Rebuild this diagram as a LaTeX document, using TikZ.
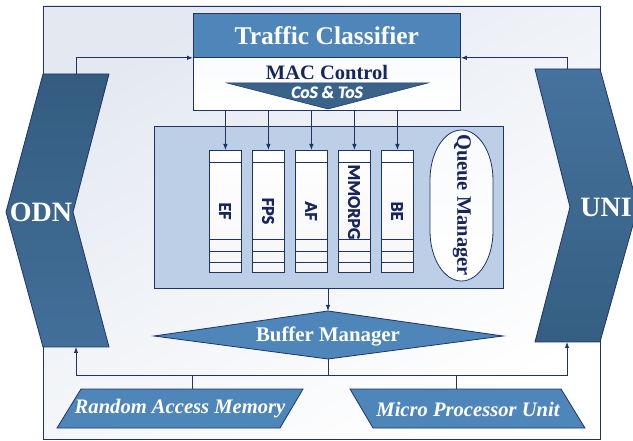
\documentclass[tikz,border=0pt]{standalone}
\usepackage{fontspec}
\setmainfont{Liberation Serif}
\newfontfamily\carlb{Carlito}[UprightFont=* Bold, ItalicFont=* Bold Italic, FakeBold=1.2]
\usetikzlibrary{arrows.meta,calc}
\definecolor{hdr}{RGB}{79,134,185}
\definecolor{darkb}{RGB}{58,99,137}
\definecolor{navy}{RGB}{30,52,105}
\definecolor{panel}{RGB}{188,207,231}
\definecolor{txt}{RGB}{22,38,92}
\definecolor{frametop}{RGB}{228,233,241}
\tikzset{
  ln/.style={draw=navy, line width=0.8pt},
  arr/.style={draw=navy, line width=0.9pt, -{Latex[length=6pt,width=4.5pt]}},
  plain/.style={draw=navy, line width=0.9pt},
  queue/.style={ln, top color=white, bottom color=white!93!gray, minimum width=32pt, minimum height=122pt, inner sep=0pt, anchor=north west},
  qlab/.style={text=txt, font=\carlb\fontsize{18}{19}\selectfont, inner sep=0pt, rotate=-90},
  whitetxt/.style={text=white, inner sep=0pt},
}
\begin{document}
\begin{tikzpicture}[x=1pt,y=-1pt]
\useasboundingbox (0,0) rectangle (633,441);
% outer frame
\path[ln, top color=frametop, bottom color=white, shading angle=30] (43,6) rectangle (600,439);
% traffic classifier
\node[ln, fill=hdr, minimum width=267pt, minimum height=44pt, inner sep=0pt, anchor=north west,
      text=white, font=\bfseries\fontsize{25.5}{28}\selectfont] (tc) at (193,13) {Traffic Classifier};
\node[ln, top color=white!92!panel, bottom color=white, minimum width=267pt, minimum height=53pt, inner sep=0pt, anchor=north west] (mac) at (193,57) {};
\node[text=txt, inner sep=0pt, font=\bfseries\fontsize{20.5}{22}\selectfont] (macl) at (327,72) {MAC Control};
\path[draw=navy, line width=0.5pt, fill=darkb] (227,83) coordinate (trL) -- (428,83) coordinate (trR) -- (328,109) coordinate (trB) -- cycle;
\node[whitetxt, font=\carlb\itshape\fontsize{17.5}{18}\selectfont] (cos) at (327,92) {CoS \& ToS};
% queue panel
\node[ln, fill=panel, minimum width=349pt, minimum height=162pt, inner sep=0pt, anchor=north west] (qp) at (154,126) {};
\foreach \i/\x/\lab/\ly in {1/209/EF/211,2/252/FPS/211,3/295/AF/211,4/338/MMORPG/202,5/381/BE/211} {
  \node[queue] (q\i) at (\x,150) {};
  \foreach \yy in {162,239,251,262} { \draw[ln] (\x,\yy) -- ++(32,0); }
  \node[qlab] (ql\i) at (\x+16,\ly) {\lab};
  \draw[arr] (mac.south -| q\i.north) -- (q\i.north);
}
% queue manager
\path[ln, top color=white!90!panel, bottom color=white] (430,180) arc[start angle=180, end angle=0, x radius=31.5pt, y radius=50pt] -- (493,231) arc[start angle=0, end angle=-180, x radius=31.5pt, y radius=50pt] -- cycle;
\node[text=txt, inner sep=0pt, rotate=-90, font=\bfseries\fontsize{20.5}{22}\selectfont] (qm) at (462,205) {Queue Manager};
% buffer manager
\path[draw=navy, line width=0.8pt, fill=hdr] (154,336) coordinate (bmL) -- (328,311) coordinate (bmT) -- (503,336) coordinate (bmR) -- (328,359) coordinate (bmB) -- cycle;
\node[whitetxt, font=\bfseries\fontsize{20.8}{22}\selectfont] (bm) at (328,336) {Buffer Manager};
\coordinate (qpB) at (328,288);
\draw[arr] (qpB) -- (bmT);
% ODN
\path[draw=navy, line width=0.8pt, top color={rgb,255:red,52;green,92;blue,128}, bottom color={rgb,255:red,66;green,111;blue,153}]
  (43,74) -- (109,74) -- (73,212) -- (109,347) -- (43,347) -- (6,212) -- cycle;
\node[whitetxt, font=\bfseries\fontsize{28}{30}\selectfont] (odn) at (41,212) {ODN};
\coordinate (odnT) at (76,74);
\coordinate (odnB) at (76,347);
% UNI
\path[draw=navy, line width=0.8pt, top color={rgb,255:red,69;green,115;blue,158}, bottom color={rgb,255:red,53;green,94;blue,130}]
  (535,69) -- (600,69) -- (638,207) -- (600,342) -- (535,342) -- (570,207) -- cycle;
\node[whitetxt, anchor=east, font=\bfseries\fontsize{28}{30}\selectfont] (uni) at (632,207) {UNI};
\coordinate (uniT) at (567,69);
\coordinate (uniB) at (567,342);
% top arrows
\draw[arr] (odnT) |- (tc.south west);
\draw[arr] (uniT) |- (tc.south east);
% RAM and MPU
\path[draw=navy, line width=0.8pt, fill=hdr] (81,389) -- (303,389) -- (280,428) -- (57,428) -- cycle;
\node[whitetxt, font=\bfseries\itshape\fontsize{20.6}{22}\selectfont] (ram) at (180,409) {Random Access Memory};
\path[draw=navy, line width=0.8pt, fill=hdr] (350,389) -- (561,389) -- (585,428) -- (373,428) -- cycle;
\node[whitetxt, font=\bfseries\itshape\fontsize{20.6}{22}\selectfont] (mpu) at (468,409) {Micro Processor Unit};
\coordinate (ramT) at (192,389);
\coordinate (mpuT) at (456,389);
\coordinate (busL) at (76,375);
\coordinate (busR) at (567,375);
% bus
\draw[plain] (bmB) -- (bmB |- busL);
\draw[plain] (ramT) -- (ramT |- busL);
\draw[plain] (mpuT) -- (mpuT |- busL);
\draw[arr] (busR) -- (busL) -- (odnB);
\draw[arr] (busL) -- (busR) -- (uniB);
\end{tikzpicture}
\end{document}
